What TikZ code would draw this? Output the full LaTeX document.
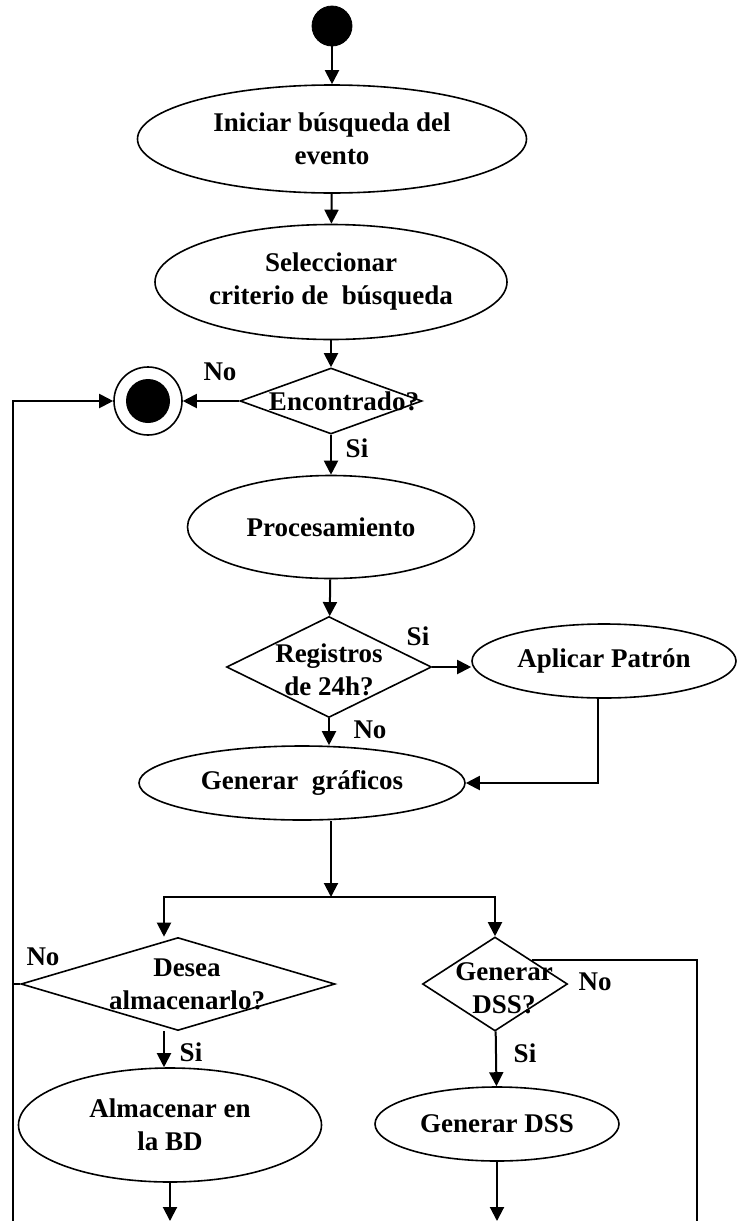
\documentclass[tikz,border=0pt]{standalone}
\usepackage{fontspec}
\setmainfont{Liberation Serif}
\usepackage{tikz}
\usetikzlibrary{shapes,arrows.meta,calc}
\tikzset{act/.style={ellipse,draw,thick,inner sep=0pt,align=center},dec/.style={diamond,draw,thick,inner sep=0pt},lbl/.style={inner sep=1pt}}
\tikzset{ini/.style={circle,draw,fill,inner sep=0pt,minimum size=20pt},fin/.style={circle,draw,thick,inner sep=0pt,minimum size=34pt,path picture={\fill (path picture bounding box.center) circle (11pt);}}}
\tikzset{arr/.style={line width=1pt,-{Triangle[length=7pt,width=7pt]}},ln/.style={line width=1pt}}

\begin{document}
\begin{tikzpicture}[x=.5pt,y=-.5pt,font=\bfseries\fontsize{13.5}{16.5}\selectfont]
\useasboundingbox (0,0) rectangle (736,1221);
\node[ini] (s) at (332,26) {};
\node[act,minimum width=194.5pt,minimum height=54pt] (v1) at (332,139) {Iniciar búsqueda del\\evento};
\node[act,minimum width=176pt,minimum height=57.5pt] (v2) at (331,282) {Seleccionar\\criterio de\ \ búsqueda};
\node[dec,minimum width=91pt,minimum height=33pt,label={[xshift=6.5pt]center:Encontrado?}] (d1) at (331,401) {};
\node[fin] (f) at (148,401) {};
\node[act,minimum width=143.5pt,minimum height=51.5pt] (v3) at (331,527) {Procesamiento};
\node[dec,minimum width=102.5pt,minimum height=50.5pt,label={[align=center,yshift=-1.5pt]center:Registros\\de 24h?}] (d2) at (329,667) {};
\node[act,minimum width=132pt,minimum height=37pt] (v4) at (604,661) {Aplicar Patrón};
\node[act,minimum width=163pt,minimum height=37pt] (v5) at (302,783) {Generar\ \ gráficos};
\coordinate (b) at (331,897);
\node[dec,minimum width=157pt,minimum height=46.5pt,label={[align=center,xshift=4.5pt]center:Desea\\almacenarlo?}] (d3) at (178,984) {};
\node[dec,minimum width=72.5pt,minimum height=47pt,label={[align=center,xshift=4.5pt,yshift=-2pt]center:Generar\\DSS?}] (d4) at (495,984) {};
\node[act,minimum width=151.5pt,minimum height=57pt] (v6) at (170,1125) {Almacenar en\\la BD};
\node[act,minimum width=122pt,minimum height=37pt] (v7) at (497,1124) {Generar DSS};
\coordinate (bl) at (13,1221);
\coordinate (br) at (697,1221);
\node[lbl] (n1) at (220,372) {No};
\node[lbl] (y1) at (357,448) {Si};
\node[lbl] (y2) at (418,636) {Si};
\node[lbl] (n2) at (370,730) {No};
\node[lbl] (n3) at (43,957) {No};
\node[lbl] (y3) at (191,1052) {Si};
\node[lbl] (n4) at (595,982) {No};
\node[lbl] (y4) at (525,1053) {Si};
\draw[arr] (s) -- (v1);
\draw[arr] (v1) -- (v2);
\draw[arr] (v2) -- (d1);
\draw[arr] (d1) -- (v3);
\draw[arr] (d1) -- (f);
\draw[arr] (v3) -- (d2);
\draw[arr] (d2) -- (d2 -| v4.west);
\draw[arr] (d2) -- (d2 |- v5.north);
\draw[arr] ([xshift=-3pt]v4.south) |- (v5.east);
\draw[arr] (v5.south -| b) -- (b);
\draw[arr] (b) -| ([xshift=-7pt]d3.north);
\draw[arr] (b) -| (d4);
\draw[arr] ([xshift=-7pt]d3.south) -- ([xshift=-7pt]d3.south |- v6.north);
\draw[ln] (d3.west) -- (d3.west -| bl);
\draw[arr] (bl) |- (f);
\draw[arr] (d4) -- (v7);
\draw[ln] (d4.north east) -| (br);
\draw[arr] (v6) -- (v6 |- bl);
\draw[arr] (v7) -- (v7 |- bl);
\end{tikzpicture}
\end{document}
